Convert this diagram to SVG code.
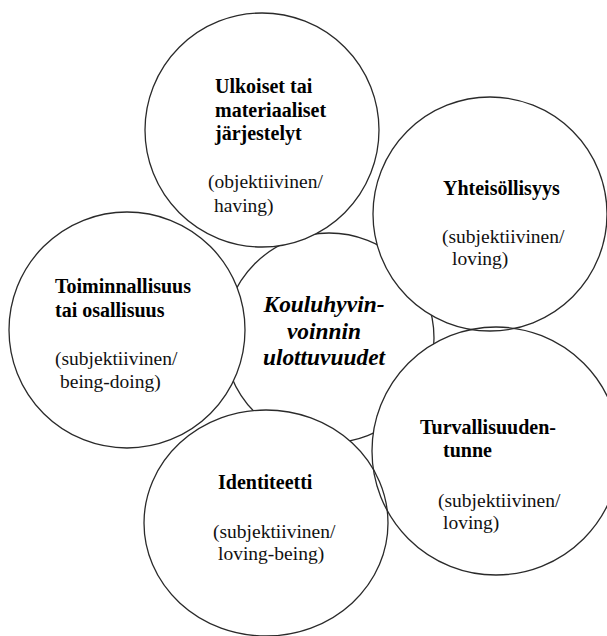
<svg xmlns="http://www.w3.org/2000/svg" width="607" height="636" viewBox="0 0 607 636">
<style>
.bg{fill:#fff}
.fill{fill:#fff;stroke:none}
.ring{fill:none;stroke:#2a2a2a;stroke-width:1.3}
.b{font-family:"Liberation Serif","Times New Roman",serif;font-weight:bold;font-size:20px;fill:#000}
.r{font-family:"Liberation Serif","Times New Roman",serif;font-size:19.5px;fill:#111}
.c{font-family:"Liberation Serif","Times New Roman",serif;font-weight:bold;font-style:italic;font-size:23.4px;fill:#000;text-anchor:middle}
</style>
<rect class="bg" x="0" y="0" width="607" height="636"/>
<g id="center">
<circle cx="329" cy="338" r="105" fill="#fff" stroke="#2a2a2a" stroke-width="1.3"/>
<text class="c" x="324" y="312">Kouluhyvin-</text>
<text class="c" x="324" y="338.5">voinnin</text>
<text class="c" x="324" y="365">ulottuvuudet</text>
</g>
<g id="fills">
<circle class="fill" cx="262" cy="130" r="117"/>
<circle class="fill" cx="490" cy="214" r="117"/>
<circle class="fill" cx="127" cy="330" r="118"/>
<ellipse class="fill" cx="266" cy="523" rx="122" ry="113"/>
<circle class="fill" cx="496" cy="451" r="124"/>
</g>
<g id="ulkoiset">
<circle class="ring" cx="262" cy="130" r="117"/>
<text class="b" x="215" y="92.5">Ulkoiset tai</text>
<text class="b" x="215" y="116.5">materiaaliset</text>
<text class="b" x="215" y="140">järjestelyt</text>
<text class="r" x="208" y="188">(objektiivinen/</text>
<text class="r" x="214" y="211.5">having)</text>
</g>
<g id="yhteisollisyys">
<circle class="ring" cx="490" cy="214" r="117"/>
<text class="b" x="443" y="195">Yhteisöllisyys</text>
<text class="r" x="442" y="243">(subjektiivinen/</text>
<text class="r" x="452" y="265">loving)</text>
</g>
<g id="toiminnallisuus">
<circle class="ring" cx="127" cy="330" r="118"/>
<text class="b" x="55" y="293">Toiminnallisuus</text>
<text class="b" x="55" y="317">tai osallisuus</text>
<text class="r" x="55" y="365">(subjektiivinen/</text>
<text class="r" x="60" y="388">being-doing)</text>
</g>
<g id="identiteetti">
<ellipse class="ring" cx="266" cy="523" rx="122" ry="113"/>
<text class="b" x="218" y="489">Identiteetti</text>
<text class="r" x="213" y="538">(subjektiivinen/</text>
<text class="r" x="218" y="560">loving-being)</text>
</g>
<g id="turvallisuus">
<circle class="ring" cx="496" cy="451" r="124"/>
<text class="b" x="420" y="434">Turvallisuuden-</text>
<text class="b" x="443" y="457">tunne</text>
<text class="r" x="438" y="507">(subjektiivinen/</text>
<text class="r" x="443" y="529">loving)</text>
</g>
<g id="connectors"></g>
</svg>
